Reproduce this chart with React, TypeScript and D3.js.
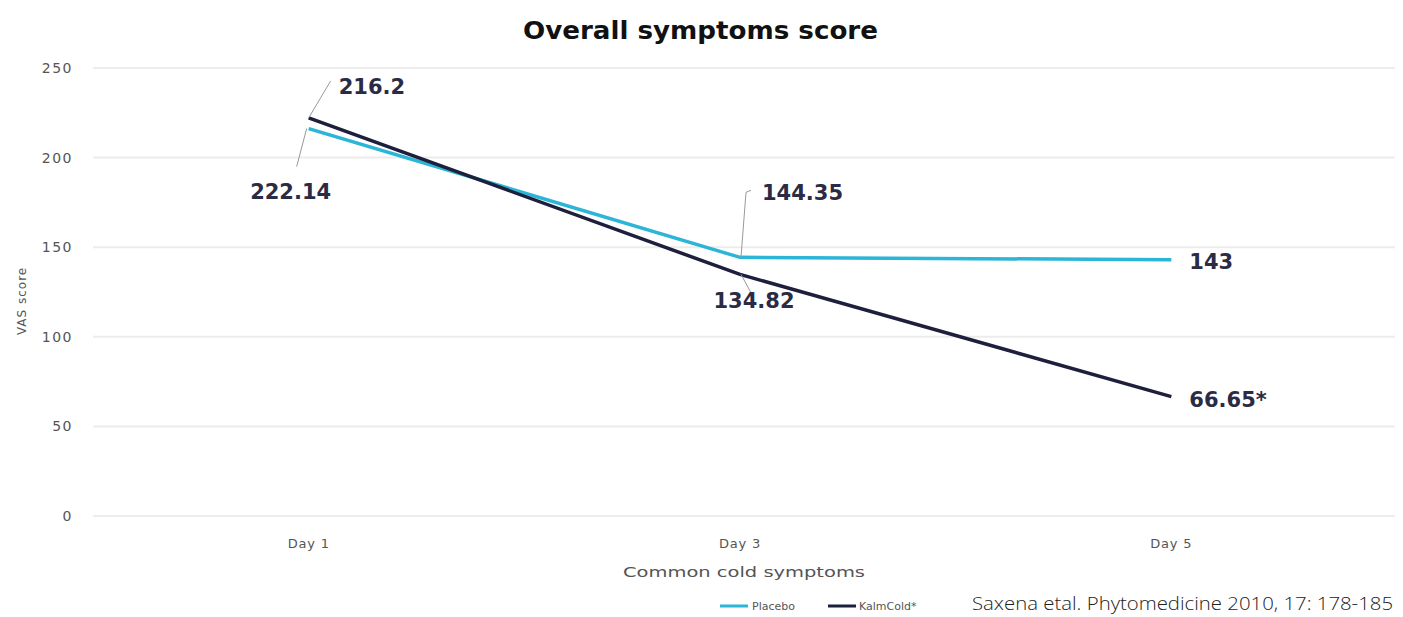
import React, { useEffect, useRef } from 'react';
import * as d3 from 'd3';

const categories = ['Day 1', 'Day 3', 'Day 5'];
const placebo = [216.2, 144.35, 143];
const kalmcold = [222.14, 134.82, 66.65];
const yTicks = [0, 50, 100, 150, 200, 250];
const placeboLabels = ['216.2', '144.35', '143'];
const kalmLabels = ['222.14', '134.82', '66.65*'];

const W = 1403;
const H = 617;

export default function App() {
  const svgRef = useRef<SVGSVGElement>(null);

  useEffect(() => {
    if (!svgRef.current) return;
    const svg = d3.select(svgRef.current);
    svg.selectAll('*').remove();

    const left = 93, right = 1395, top = 68, bottom = 516;
    const x = d3.scalePoint<string>().domain(categories).range([left, right - 8]).padding(0.5);
    const y = d3.scaleLinear().domain([0, 250]).range([bottom, top]);
    const font = '"DejaVu Sans", Verdana, sans-serif';

    // title
    svg.append('text')
      .attr('x', 523).attr('y', 39)
      .attr('font-family', font).attr('font-weight', 900).attr('font-size', 24)
      .attr('fill', '#111')
      .attr('textLength', 355).attr('lengthAdjust', 'spacingAndGlyphs')
      .text('Overall symptoms score');

    // grid
    svg.append('g').selectAll('line').data(yTicks).enter().append('line')
      .attr('x1', left).attr('x2', right)
      .attr('y1', d => y(d)).attr('y2', d => y(d))
      .attr('stroke', '#ececec').attr('stroke-width', 2);

    svg.append('g').selectAll('text').data(yTicks).enter().append('text')
      .attr('x', 73).attr('y', d => y(d) + 5)
      .attr('text-anchor', 'end')
      .attr('font-family', font).attr('font-size', 14).attr('letter-spacing', 1.5).attr('fill', '#555')
      .text(d => d);

    svg.append('text')
      .attr('transform', `translate(26,${y(120)}) rotate(-90)`)
      .attr('text-anchor', 'middle')
      .attr('font-family', font).attr('font-size', 12).attr('letter-spacing', 1).attr('fill', '#555')
      .text('VAS score');

    svg.append('g').selectAll('text').data(categories).enter().append('text')
      .attr('x', d => x(d)!).attr('y', 548)
      .attr('text-anchor', 'middle')
      .attr('font-family', font).attr('font-size', 13).attr('letter-spacing', 0.8).attr('fill', '#555')
      .text(d => d);

    svg.append('text')
      .attr('x', 623).attr('y', 577)
      .attr('font-family', font).attr('font-size', 14).attr('fill', '#555')
      .attr('textLength', 242).attr('lengthAdjust', 'spacingAndGlyphs')
      .text('Common cold symptoms');

    const line = d3.line<number>().x((_, i) => x(categories[i])!).y(d => y(d));

    svg.append('path').datum(placebo)
      .attr('d', line).attr('fill', 'none')
      .attr('stroke', '#2bb5d6').attr('stroke-width', 3.5);
    svg.append('path').datum(kalmcold)
      .attr('d', line).attr('fill', 'none')
      .attr('stroke', '#1d1f3d').attr('stroke-width', 3.5);

    // leader lines and labels
    const leader = (pts: [number, number][]) =>
      svg.append('path').attr('d', d3.line()(pts))
        .attr('fill', 'none').attr('stroke', '#999').attr('stroke-width', 1);
    const label = (px: number, py: number, t: string, anchor = 'start') =>
      svg.append('text').attr('x', px).attr('y', py)
        .attr('text-anchor', anchor)
        .attr('font-family', font).attr('font-weight', 700).attr('font-size', 21)
        .attr('fill', '#2b2b45').text(t);

    const x1 = x('Day 1')!, x3 = x('Day 3')!, x5 = x('Day 5')!;
    leader([[x1, y(kalmcold[0])], [x1 + 22, y(kalmcold[0]) - 37]]);
    label(x1 + 30, 94, placeboLabels[0]);
    leader([[x1 - 2, y(placebo[0])], [x1 - 12, y(placebo[0]) + 38]]);
    label(x1 - 18, 199, kalmLabels[0], 'middle');

    leader([[x3 + 1, y(placebo[1])], [x3 + 6, y(placebo[1]) - 65], [x3 + 11, y(placebo[1]) - 67]]);
    label(x3 + 22, 200, placeboLabels[1]);
    leader([[x3 + 1, y(kalmcold[1])], [x3 + 13, y(kalmcold[1]) + 22]]);
    label(x3 + 14, 308, kalmLabels[1], 'middle');

    label(x5 + 18, y(placebo[2]) + 9, placeboLabels[2]);
    label(x5 + 18, y(kalmcold[2]) + 10, kalmLabels[2]);

    // legend
    const lg = svg.append('g').attr('font-family', font).attr('font-size', 11).attr('fill', '#555');
    lg.append('line').attr('x1', 720).attr('x2', 748).attr('y1', 606).attr('y2', 606)
      .attr('stroke', '#2bb5d6').attr('stroke-width', 3);
    lg.append('text').attr('x', 752).attr('y', 610).text('Placebo');
    lg.append('line').attr('x1', 828).attr('x2', 856).attr('y1', 606).attr('y2', 606)
      .attr('stroke', '#1d1f3d').attr('stroke-width', 3);
    lg.append('text').attr('x', 859).attr('y', 610).text('KalmCold*');

    svg.append('text')
      .attr('x', 972).attr('y', 610)
      .attr('font-family', '"Open Sans", sans-serif').attr('font-weight', 300).attr('font-size', 18)
      .attr('fill', '#222')
      .attr('textLength', 421).attr('lengthAdjust', 'spacingAndGlyphs')
      .text('Saxena etal. Phytomedicine 2010, 17: 178-185');
  }, []);

  return (
    <svg
      ref={svgRef}
      width={W}
      height={H}
      style={{ position: 'absolute', left: 0, top: 0, background: '#fff' }}
    />
  );
}
